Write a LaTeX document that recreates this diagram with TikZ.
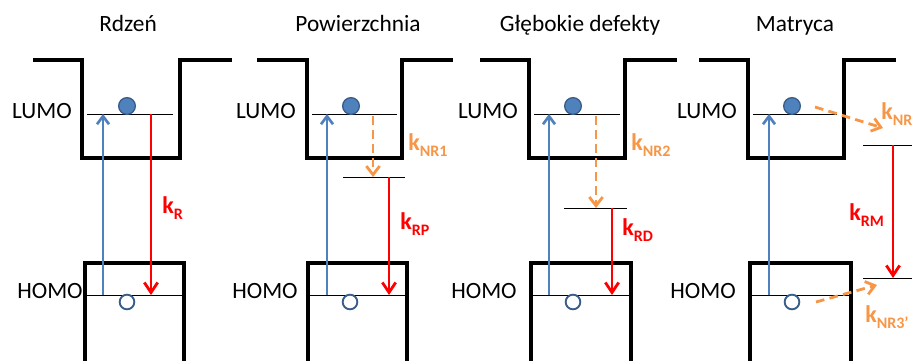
\documentclass[tikz,border=0pt]{standalone}
\usepackage{fontspec}
\setmainfont{Carlito}
\usetikzlibrary{arrows.meta, positioning, calc}
\definecolor{levblue}{RGB}{79, 129, 189}
\definecolor{edgeblue}{RGB}{56, 93, 138}
\definecolor{nrorange}{RGB}{247, 150, 70}
\tikzset{
    well/.style={line width=2.3pt, black, line join=miter},
    level/.style={line width=0.7pt, black},
    excite/.style={line width=2pt, levblue,
                   -{Straight Barb[length=6pt, width=9pt]}},
    emit/.style={line width=2.1pt, red,
                 -{Straight Barb[length=7.5pt, width=10pt]}},
    nonrad/.style={line width=2.1pt, nrorange, dash pattern=on 6.5pt off 4pt,
                   -{Straight Barb[length=6.5pt, width=10pt]}},
    electron/.style={circle, draw=edgeblue, fill=levblue, line width=1pt,
                     minimum size=12.5pt, inner sep=0pt},
    hole/.style={circle, draw=edgeblue, fill=white, line width=1.4pt,
                 minimum size=11pt, inner sep=0pt},
    title/.style={font=\fontsize{17.5}{20}\selectfont, anchor=base, inner sep=0pt},
    orbital/.style={font=\fontsize{17.5}{20}\selectfont, anchor=base, inner sep=0pt},
    rate/.style={font=\fontsize{18}{20}\selectfont\bfseries, anchor=base west,
                 inner sep=0pt},
    redrate/.style={rate, text=red},
    nrrate/.style={rate, text=nrorange},
}
\newcommand{\krate}[1]{k\raisebox{-4.5pt}{\fontsize{12}{12}\selectfont #1}}

\begin{document}
\begin{tikzpicture}[x=0.75pt, y=-0.75pt]
    \useasboundingbox (0,0) rectangle (912,360);

    % titles
    \node[title] (t1) at (128,32) {Rdzeń};
    \node[title] (t2) at (358,32) {Powierzchnia};
    \node[title] (t3) at (580,32) {Głębokie defekty};
    \node[title] (t4) at (795,32) {Matryca};

    % wells (LUMO side) and HOMO boxes
    \draw[well] (33,60) -- (82,60) -- (82,158) -- (180,158) -- (180,60) -- (232,60);
    \draw[well] (257,60) -- (307,60) -- (307,158) -- (402,158) -- (402,60) -- (453,60);
    \draw[well] (480,60) -- (529,60) -- (529,158) -- (625,158) -- (625,60) -- (677,60);
    \draw[well] (699,60) -- (748,60) -- (748,158) -- (844,158) -- (844,60) -- (896,60);
    \draw[well] (85,366) -- (85,263) -- (184,263) -- (184,366);
    \draw[well] (308,366) -- (308,263) -- (407,263) -- (407,366);
    \draw[well] (531,366) -- (531,263) -- (631,263) -- (631,366);
    \draw[well] (750,366) -- (750,263) -- (851,263) -- (851,366);

    % labels
    \node[orbital] (lumo1) at (42,118) {LUMO};
    \node[orbital] (homo1) at (50,298) {HOMO};
    \node[orbital] (lumo2) at (266,118) {LUMO};
    \node[orbital] (homo2) at (265,298) {HOMO};
    \node[orbital] (lumo3) at (488,118) {LUMO};
    \node[orbital] (homo3) at (484,298) {HOMO};
    \node[orbital] (lumo4) at (707,118) {LUMO};
    \node[orbital] (homo4) at (703,298) {HOMO};

    % levels
    \draw[level] (87,114) -- (173,114);
    \draw[level] (87,295) -- (182,295);
    \draw[level] (312,114) -- (397,114);
    \draw[level] (310,295) -- (405,295);
    \draw[level] (343,177) -- (405,177);
    \draw[level] (534,114) -- (620,114);
    \draw[level] (533,295) -- (629,295);
    \draw[level] (564,208) -- (627,208);
    \draw[level] (753,114) -- (837,114);
    \draw[level] (752,295) -- (849,295);
    \draw[level] (863,145) -- (915,145);
    \draw[level] (863,278) -- (915,278);

    % carriers
    \node[electron] (e1) at (127,106) {};
    \node[electron] (e2) at (351,106) {};
    \node[electron] (e3) at (573,106) {};
    \node[electron] (e4) at (792,106) {};
    \node[hole] (h1) at (127,302) {};
    \node[hole] (h2) at (350,302) {};
    \node[hole] (h3) at (573,302) {};
    \node[hole] (h4) at (792,302) {};

    % arrow end points
    \coordinate (a1) at (103,295); \coordinate (b1) at (103,114);
    \coordinate (a2) at (327,295); \coordinate (b2) at (327,114);
    \coordinate (a3) at (549,295); \coordinate (b3) at (549,114);
    \coordinate (a4) at (769,295); \coordinate (b4) at (769,114);
    \coordinate (r1) at (151,114); \coordinate (s1) at (151,295);
    \coordinate (n2) at (373,116); \coordinate (r2) at (389,177);
    \coordinate (m2) at (373,177); \coordinate (s2) at (389,295);
    \coordinate (n3) at (596,116); \coordinate (r3) at (612,208);
    \coordinate (m3) at (596,208); \coordinate (s3) at (612,295);
    \coordinate (n4) at (815,107); \coordinate (m4) at (883,128);
    \coordinate (r4) at (893,145); \coordinate (s4) at (893,278);
    \coordinate (p4) at (816,302); \coordinate (q4) at (877,285);

    % excitation
    \draw[excite] (a1) -- (b1);
    \draw[excite] (a2) -- (b2);
    \draw[excite] (a3) -- (b3);
    \draw[excite] (a4) -- (b4);

    % recombination
    \draw[emit] (r1) -- (s1);
    \draw[nonrad] (n2) -- (m2);
    \draw[emit] (r2) -- (s2);
    \draw[nonrad] (n3) -- (m3);
    \draw[emit] (r3) -- (s3);
    \draw[nonrad] (n4) -- (m4);
    \draw[emit] (r4) -- (s4);
    \draw[nonrad] (p4) -- (q4);

    % rates
    \node[redrate] (kr) at (162,213) {\krate{R}};
    \node[nrrate] (knr1) at (408,150) {\krate{NR1}};
    \node[redrate] (krp) at (400,229) {\krate{RP}};
    \node[nrrate] (knr2) at (631,150) {\krate{NR2}};
    \node[redrate] (krd) at (622,235) {\krate{RD}};
    \node[nrrate] (knr) at (881,119) {\krate{NR}};
    \node[redrate] (krm) at (849,220) {\krate{RM}};
    \node[nrrate] (knr3) at (865,322) {\krate{NR3’}};
\end{tikzpicture}
\end{document}
